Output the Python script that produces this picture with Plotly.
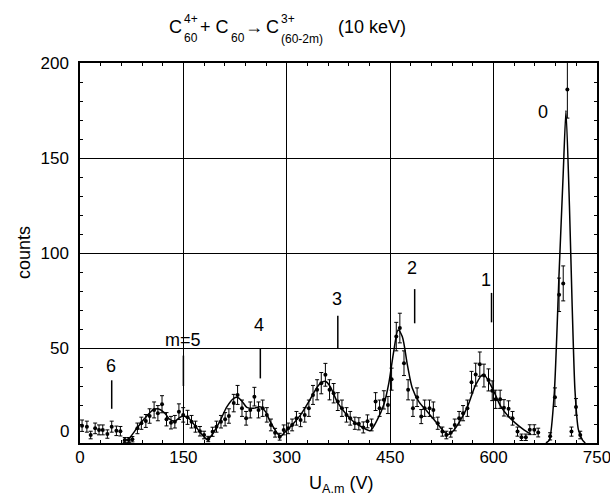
import plotly.graph_objects as go

# ---------------- data ----------------
u_volts = [3, 10, 15.5, 22, 27.6, 33, 39.7, 46, 52.8, 58.6,
           65, 70.8, 76, 83.3, 89, 95.5, 101, 107.5, 113, 119,
           125.5, 132, 137.6, 143.5, 149.7, 156, 161.8, 167.6, 174, 180,
           186, 192.3, 198, 204.5, 210.5, 216, 223, 228.6, 235, 241,
           247, 253, 259, 265, 271, 277, 283, 289.7, 295.5, 302,
           307.7, 314, 320, 326, 332, 338, 344, 350, 356, 362,
           368, 374, 380, 386.6, 392, 398.7, 404.5, 411, 417, 423,
           428.8, 434.6, 440.8, 446.7, 452, 458.8, 464, 470, 476, 483,
           489, 495, 500, 507, 512.6, 519, 525.7, 531.5, 537.8, 543.6,
           550, 555.7, 562, 568, 574, 580, 586, 592.6, 598, 603,
           609.5, 615, 621.7, 627.5, 634.7, 640.5, 646.8, 652.5, 659, 664.7,
           682, 689, 695, 701, 707, 713, 719.5, 725.7]
counts = [9.1, 8.6, 4.2, 7.7, 6.9, 6.9, 4.7, 8.6, 6.4, 6.2,
          1.6, 1.6, 2.0, 7.7, 10.4, 11.6, 14.2, 17.4, 15.7, 20.4,
          12.5, 10.7, 11.2, 16.5, 14.8, 13.5, 11.2, 8.6, 6.2, 4.2,
          2.1, 5.9, 8.6, 11.2, 12.5, 14.2, 21.0, 25.3, 18.3, 13.0,
          17.4, 24.4, 17.4, 18.3, 14.8, 9.5, 5.4, 3.3, 6.9, 7.7,
          9.5, 13.0, 12.1, 14.8, 18.3, 25.3, 28.0, 31.5, 35.9, 28.0,
          26.2, 21.8, 18.3, 14.8, 13.0, 10.4, 10.1, 8.2, 11.4, 9.5,
          21.8, 18.3, 22.7, 20.0, 33.6, 56.0, 60.5, 42.0, 28.0, 18.3,
          24.1, 13.9, 18.3, 18.3, 17.4, 10.4, 6.0, 4.2, 5.4, 9.5,
          13.0, 15.7, 18.3, 32.0, 36.0, 41.5, 35.5, 33.2, 27.5, 23.0,
          23.0, 18.5, 18.0, 13.0, 6.0, 3.0, 3.0, 7.0, 7.0, 5.5,
          3.5, 24.1, 78.0, 84.0, 186.0, 6.0, 19.0, 4.2]
count_err = [3.0, 2.9, 2.0, 2.8, 2.6, 2.6, 2.2, 2.9, 2.5, 2.5,
             1.3, 1.3, 1.4, 2.8, 3.2, 3.4, 3.8, 4.2, 4.0, 4.5,
             3.5, 3.3, 3.3, 4.1, 3.8, 3.7, 3.3, 2.9, 2.5, 2.0,
             1.4, 2.4, 2.9, 3.3, 3.5, 3.8, 4.6, 5.0, 4.3, 3.6,
             4.2, 4.9, 4.2, 4.3, 3.8, 3.1, 2.3, 1.8, 2.6, 2.8,
             3.1, 3.6, 3.5, 3.8, 4.3, 5.0, 5.3, 5.6, 6.0, 5.3,
             5.1, 4.7, 4.3, 3.8, 3.6, 3.2, 3.2, 2.9, 3.4, 3.1,
             4.7, 4.3, 4.8, 4.5, 5.8, 7.5, 7.8, 6.5, 5.3, 4.3,
             4.9, 3.7, 4.3, 4.3, 4.2, 3.2, 2.4, 2.0, 2.3, 3.1,
             3.6, 4.0, 4.3, 5.7, 6.0, 6.4, 6.0, 5.8, 5.2, 4.8,
             4.8, 4.3, 4.2, 3.6, 2.4, 1.7, 1.7, 2.6, 2.6, 2.3,
             1.9, 4.9, 8.8, 9.2, 15.0, 2.4, 4.4, 2.0]

# fitted curve (m = 1..6)
fit_u = [62, 70, 83, 94, 106, 113, 123, 130, 137.6, 145, 150, 157, 164, 171.5, 179, 185,
         193, 203, 213, 223, 229, 235, 242, 252, 261.6, 269, 276, 283, 290.7, 298,
         307.7, 320, 332, 341.6, 349, 356, 363, 373, 385, 397, 409.5, 421,
         431, 441, 448, 455, 461.5, 467.5, 475, 482, 492, 504, 516, 528, 534,
         542.6, 552, 562, 574, 585, 598, 610, 622.5, 630, 644, 654]
fit_c = [1, 2, 8, 13, 17.4, 18, 15.7, 12.5, 11.5, 13.5, 14.2, 13.2, 10.4, 6.9, 3.7, 1.8,
         5.1, 11.5, 19, 23.5, 24, 22, 18.8, 18.3, 19, 16.5, 11.2, 6.9, 3.5, 6,
         9.5, 14.8, 21.8, 28, 31.5, 32.5, 29.7, 21.8, 15.7, 11.2, 8.3, 6.5,
         12, 20.5, 31.5, 48, 59.5, 56, 41, 29, 21.5, 16.5, 11.2, 6, 4.5,
         6.9, 12, 19, 30.6, 36.2, 29, 19.5, 13.5, 11, 6.9, 4.6]
# fitted curve of the m = 0 peak
fit0_u = [676, 681, 688, 695, 701, 705, 710, 714, 718, 723, 729, 733]
fit0_c = [0, 1.6, 26, 89.5, 142, 175, 125, 72, 28, 7, 1.5, 0]

# peak labels and marker bars
peak_labels = ["0", "1", "2", "3", "4", "m=5", "6"]
label_u = [672, 589, 481, 373, 259, 150, 45]
label_c = [174, 86, 92, 76, 62, 54, 40.5]
bar_u = [None, 597, 485.5, 374, 261.6, 150, 46]
bar_lo = [None, 63.5, 63, 50, 34, 30, 18]
bar_hi = [None, 79, 81, 67, 50, 46, 33]

x_ticks = [0, 150, 300, 450, 600, 750]
y_ticks = [50, 100, 150, 200]

FONT = "Liberation Sans, Arial, sans-serif"

# plot-area geometry (pixels) for placing text outside the axes
L, R, T, B = 80, 13, 63, 54
W, H = 610 - L - R, 497 - T - B


def px(xp):
    return (xp - L) / W


def py(yp):
    return (497 - B - yp) / H


fig = go.Figure()

fig.add_trace(go.Scatter(
    x=fit_u, y=fit_c, mode="lines",
    line=dict(color="black", width=1.5, shape="spline", smoothing=0.8),
    hoverinfo="skip"))
fig.add_trace(go.Scatter(
    x=fit0_u, y=fit0_c, mode="lines",
    line=dict(color="black", width=1.5, shape="spline", smoothing=0.6),
    hoverinfo="skip"))
fig.add_trace(go.Scatter(
    x=u_volts, y=counts, mode="markers",
    marker=dict(color="black", size=4),
    error_y=dict(type="data", array=count_err, color="black", thickness=1, width=2)))

for u, lo, hi in zip(bar_u, bar_lo, bar_hi):
    if u is None:
        continue
    fig.add_shape(type="line", xref="x", yref="y", x0=u, x1=u, y0=lo, y1=hi,
                  line=dict(color="black", width=1.5))

for t, u, c in zip(peak_labels, label_u, label_c):
    fig.add_annotation(x=u, y=c, xref="x", yref="y", text=t, showarrow=False,
                       xanchor="center", yanchor="middle",
                       font=dict(family=FONT, size=18, color="black"))

# title built from pieces so super/subscripts stack
title_parts = [
    ("C", 167, 27, 18), ("4+", 182, 19, 12), ("60", 182, 38, 12),
    ("+ C", 198, 27, 18), ("60", 229, 38, 12),
    ("\u2192", 243, 27, 18), ("C", 264, 27, 18),
    ("3+", 279, 19, 12), ("(60-2m)", 279, 39, 12),
    ("(10 keV)", 336, 27, 18),
]
for t, xp, yp, s in title_parts:
    fig.add_annotation(x=px(xp), y=py(yp), xref="paper", yref="paper", text=t,
                       showarrow=False, xanchor="left", yanchor="middle",
                       font=dict(family=FONT, size=s, color="black"))

# axis titles
fig.add_annotation(x=px(24), y=py(253), xref="paper", yref="paper", text="counts",
                   textangle=-90, showarrow=False, xanchor="center", yanchor="middle",
                   font=dict(family=FONT, size=18, color="black"))
fig.add_annotation(x=px(341), y=py(484), xref="paper", yref="paper",
                   text="U<sub>A.m</sub> (V)", showarrow=False,
                   xanchor="center", yanchor="middle",
                   font=dict(family=FONT, size=18, color="black"))
# y-axis "0" label sits slightly raised in the reference
fig.add_annotation(x=px(71), y=py(431), xref="paper", yref="paper", text="0",
                   showarrow=False, xanchor="right", yanchor="middle",
                   font=dict(family=FONT, size=17, color="black"))

axis_common = dict(
    showline=True, linecolor="black", linewidth=1.5, mirror="allticks",
    showgrid=True, gridcolor="black", gridwidth=1,
    ticks="inside", ticklen=6, tickwidth=1, tickcolor="black",
    zeroline=False, automargin=False,
    tickfont=dict(family=FONT, size=17, color="black"),
)
fig.update_xaxes(range=[0, 750], tickvals=x_ticks, ticklabeloverflow="allow",
                 ticklabelstandoff=-2,
                 minor=dict(ticks="inside", dtick=30, tick0=0, ticklen=3,
                            tickcolor="black", showgrid=False),
                 **axis_common)
fig.update_yaxes(range=[0, 200], tickvals=y_ticks,
                 ticklabelstandoff=6,
                 minor=dict(ticks="inside", dtick=10, tick0=0, ticklen=3,
                            tickcolor="black", showgrid=False),
                 **axis_common)

fig.update_layout(
    width=610, height=497,
    margin=dict(l=L, r=R, t=T, b=B, autoexpand=False),
    paper_bgcolor="white", plot_bgcolor="white",
    showlegend=False,
    font=dict(family=FONT, color="black"),
)

fig.write_html("out.html", config={"displayModeBar": False},
               post_script="document.body.style.margin='0';document.body.style.padding='0';")
